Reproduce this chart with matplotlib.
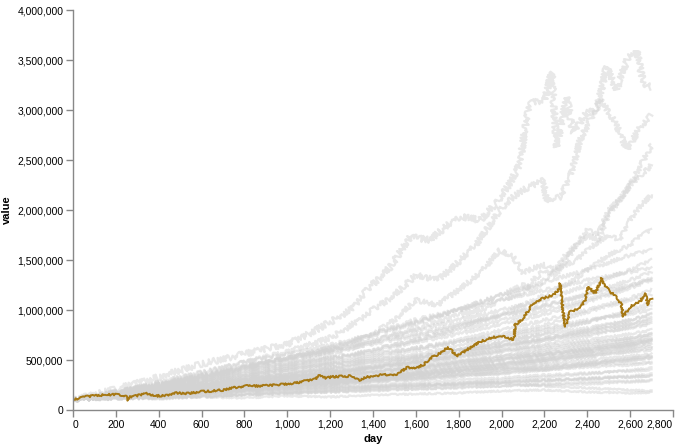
import matplotlib
matplotlib.use("Agg")
import matplotlib.pyplot as plt

plt.rcParams['font.family'] = ['Liberation Sans', 'DejaVu Sans']

# ---------------------------------------------------------------------------
# data (values in thousands)
# ---------------------------------------------------------------------------
grid_days = [0, 200, 400, 600, 800, 1000, 1200, 1400, 1600, 1800, 2000, 2200, 2400, 2600, 2700]

bulk_paths = [
    [100, 130, 150, 170, 190, 210, 230, 240, 260, 250, 270, 240, 220, 200, 190],
    [100, 120, 110, 130, 120, 140, 130, 150, 160, 170, 190, 200, 180, 170, 175],
    [100, 140, 180, 200, 240, 260, 300, 310, 350, 380, 420, 400, 450, 470, 480],
    [100, 150, 170, 220, 260, 300, 340, 380, 420, 480, 520, 560, 620, 680, 700],
    [100, 160, 200, 260, 320, 360, 420, 480, 520, 600, 680, 760, 820, 900, 950],
    [100, 130, 160, 190, 220, 240, 270, 300, 330, 360, 400, 440, 470, 520, 540],
    [100, 110, 120, 130, 150, 170, 190, 210, 230, 250, 270, 290, 310, 330, 340],
    [100, 170, 230, 300, 360, 420, 480, 560, 620, 680, 760, 850, 980, 1100, 1150],
    [100, 150, 190, 230, 270, 320, 360, 420, 480, 540, 600, 640, 700, 760, 800],
    [100, 140, 160, 190, 210, 250, 280, 300, 320, 350, 360, 400, 430, 450, 470],
    [100, 120, 140, 170, 200, 230, 260, 300, 340, 390, 440, 500, 560, 620, 660],
    [100, 160, 220, 260, 300, 350, 400, 430, 480, 530, 590, 660, 740, 830, 880],
    [100, 140, 200, 250, 300, 330, 380, 420, 460, 520, 580, 620, 680, 720, 760],
    [100, 130, 140, 160, 180, 200, 220, 230, 240, 260, 280, 300, 320, 340, 360],
    [100, 150, 210, 280, 340, 400, 460, 540, 620, 700, 800, 900, 1000, 1120, 1200],
    [100, 180, 240, 320, 400, 460, 520, 580, 680, 760, 860, 960, 1080, 1220, 1300],
    [100, 130, 170, 200, 230, 270, 310, 340, 380, 430, 470, 520, 580, 640, 680],
    [100, 120, 150, 170, 200, 220, 250, 280, 300, 330, 370, 410, 450, 500, 520],
    [100, 140, 170, 220, 260, 290, 330, 370, 410, 460, 500, 560, 600, 660, 700],
    [100, 160, 210, 260, 320, 380, 450, 520, 600, 680, 740, 820, 900, 960, 1000],
    [100, 130, 150, 180, 210, 240, 260, 290, 320, 360, 400, 430, 470, 510, 540],
    [100, 140, 190, 240, 300, 360, 420, 500, 560, 640, 720, 800, 880, 980, 1040],
    [100, 120, 130, 140, 160, 180, 200, 220, 240, 270, 300, 330, 360, 400, 420],
    [100, 150, 180, 210, 250, 290, 340, 380, 430, 480, 540, 600, 660, 720, 760],
    [100, 170, 220, 280, 340, 400, 460, 500, 540, 600, 640, 700, 760, 820, 860],
    [100, 130, 170, 210, 250, 300, 360, 420, 480, 560, 640, 720, 800, 900, 960],
    [100, 140, 160, 180, 200, 230, 250, 280, 310, 340, 380, 420, 460, 500, 520],
    [100, 190, 260, 340, 420, 500, 580, 660, 740, 840, 940, 1040, 1160, 1300, 1380],
    [100, 150, 200, 240, 280, 330, 370, 400, 440, 490, 540, 580, 640, 700, 740],
    [100, 120, 140, 160, 180, 190, 210, 230, 250, 270, 280, 300, 310, 330, 340],
    [100, 160, 190, 230, 280, 330, 380, 440, 500, 560, 620, 700, 780, 860, 920],
    [100, 140, 180, 220, 260, 310, 370, 440, 520, 600, 680, 770, 880, 1000, 1080],
    [100, 130, 160, 180, 210, 240, 280, 310, 350, 390, 430, 480, 530, 590, 620],
    [100, 150, 180, 210, 240, 280, 310, 330, 360, 390, 420, 460, 500, 540, 560],
    [100, 110, 130, 140, 150, 170, 180, 200, 210, 230, 240, 260, 280, 290, 300],
    [100, 170, 240, 300, 370, 440, 520, 600, 700, 800, 900, 1000, 1100, 1240, 1320],
    [100, 140, 170, 200, 240, 280, 320, 350, 390, 440, 500, 540, 600, 650, 690],
    [100, 130, 160, 190, 230, 260, 290, 330, 370, 410, 450, 500, 550, 610, 640],
    [100, 150, 190, 230, 280, 320, 350, 380, 420, 460, 510, 560, 610, 680, 720],
    [100, 120, 150, 180, 210, 240, 280, 320, 360, 410, 460, 520, 580, 650, 700],
    [100, 110, 120, 140, 150, 160, 180, 190, 210, 220, 240, 250, 260, 280, 290],
    [100, 140, 170, 190, 220, 250, 290, 330, 370, 420, 460, 500, 540, 580, 600],
    [100, 160, 200, 250, 300, 350, 410, 470, 530, 590, 650, 720, 790, 860, 900],
    [100, 120, 150, 170, 190, 210, 230, 250, 270, 300, 320, 350, 370, 390, 400],
    [100, 180, 280, 380, 480, 560, 650, 760, 880, 1000, 1100, 1200, 1300, 1380, 1420],
    [100, 170, 260, 350, 440, 520, 600, 680, 760, 860, 950, 1050, 1150, 1250, 1300],
    [100, 160, 250, 340, 430, 520, 600, 700, 800, 900, 1000, 1100, 1250, 1400, 1500],
    [100, 150, 230, 320, 420, 520, 620, 740, 870, 1000, 1150, 1280, 1400, 1550, 1600],
]

# the few runs that stand out above the bulk
line_a_days = [0, 200, 400, 600, 800, 1000, 1100, 1200, 1293, 1386, 1480, 1573, 1666,
               1760, 1820, 1900, 1977, 2040, 2086, 2117, 2133, 2200, 2234, 2257, 2304,
               2334, 2397, 2444, 2490, 2537, 2584, 2630, 2661, 2700]
line_a_vals = [100, 210, 330, 460, 560, 660, 760, 880, 1000, 1230, 1430, 1730, 1700,
               1870, 1930, 1900, 2070, 2270, 2470, 2930, 3070, 3100, 3380, 2630, 3130,
               2770, 2970, 3000, 3430, 3200, 3500, 3600, 3270, 3230]

line_b_days = [0, 200, 400, 600, 800, 1000, 1200, 1300, 1400, 1500, 1600, 1700, 1760,
               1880, 1993, 2054, 2100, 2194, 2210, 2273, 2320, 2350, 2366, 2413, 2460,
               2510, 2553, 2584, 2613, 2646, 2677, 2700]
line_b_vals = [100, 170, 260, 360, 470, 580, 720, 850, 1000, 1150, 1350, 1300, 1400,
               1650, 2000, 2130, 2200, 2300, 2100, 2130, 2330, 2570, 2700, 2900, 3100,
               2950, 2770, 2600, 2700, 2830, 2900, 2950]

line_c_days = [0, 200, 400, 600, 800, 1000, 1200, 1300, 1400, 1500, 1600, 1700, 1800,
               1900, 1993, 2054, 2100, 2150, 2200, 2250, 2300, 2350, 2400, 2450, 2500,
               2550, 2600, 2650, 2700]
line_c_vals = [100, 160, 230, 310, 400, 480, 600, 680, 760, 900, 1100, 1050, 1200,
               1370, 1600, 1530, 1370, 1420, 1450, 1400, 1550, 1650, 1800, 1750, 2000,
               2100, 2250, 2350, 2450]

late_days = [0, 200, 400, 600, 800, 1000, 1200, 1400, 1600, 1800, 1900, 2000, 2100,
             2150, 2200, 2250, 2300, 2350, 2400, 2450, 2500, 2550, 2600, 2650, 2700]
line_d_vals = [100, 150, 220, 300, 380, 450, 560, 680, 820, 950, 1000, 1100, 1180,
               1300, 1400, 1350, 1500, 1650, 1750, 1700, 1950, 2100, 2250, 2450, 2650]
line_e_vals = [100, 170, 250, 330, 420, 520, 620, 760, 900, 1000, 1080, 1150, 1250,
               1200, 1300, 1400, 1450, 1500, 1600, 1680, 1750, 1700, 1900, 2050, 2150]
line_f_vals = [100, 140, 200, 260, 330, 420, 500, 600, 700, 820, 900, 950, 1050,
               1100, 1150, 1200, 1250, 1320, 1400, 1480, 1550, 1600, 1650, 1750, 1800]

# highlighted run
gold_days = [0, 30, 60, 100, 150, 187, 220, 250, 257, 262, 290, 344, 390, 440, 484,
             540, 593, 650, 700, 747, 810, 873, 950, 1028, 1090, 1130, 1153, 1180,
             1214, 1250, 1293, 1320, 1339, 1370, 1400, 1447, 1494, 1530, 1557, 1604,
             1640, 1666, 1713, 1750, 1770, 1790, 1837, 1900, 1960, 2008, 2054, 2060,
             2063, 2101, 2147, 2194, 2241, 2265, 2273, 2288, 2297, 2320, 2367, 2390,
             2404, 2437, 2467, 2480, 2506, 2537, 2560, 2567, 2600, 2646, 2670, 2684, 2700]
gold_vals = [100, 120, 132, 145, 150, 155, 150, 140, 95, 130, 140, 165, 140, 150, 170,
             165, 183, 190, 200, 223, 240, 240, 250, 267, 293, 310, 350, 320,
             333, 335, 340, 320, 300, 330, 333, 360, 340, 380, 427, 420,
             460, 517, 567, 627, 590, 533, 600, 683, 727, 733, 707, 720,
             850, 917, 1067, 1117, 1150, 1200, 1267, 967, 833, 983, 1017, 1100,
             1233, 1167, 1317, 1250, 1183, 1133, 1050, 933, 1033, 1083, 1167, 1050, 1117]

x_ticks = list(range(0, 2801, 200))
y_ticks = list(range(0, 4000001, 500000))

# ---------------------------------------------------------------------------
# plot
# ---------------------------------------------------------------------------
fig = plt.figure(figsize=(6.78, 4.47), dpi=100)
ax = fig.add_axes([73 / 678, 37 / 447, 600 / 678, 400 / 447])


def run_line(days, vals, top):
    # daily noise drawn as a rough stroke, wider for the runs that end high
    ln, = ax.plot(days, [v * 1000 for v in vals], color='#d3d3d3', alpha=0.5,
                  linewidth=1.6, solid_joinstyle='round')
    ln.set_sketch_params(scale=0.6 + top / 1400.0, length=1, randomness=2)


for path in bulk_paths:
    run_line(grid_days, path, max(path))

for days, vals in [(line_a_days, line_a_vals), (line_b_days, line_b_vals),
                   (line_c_days, line_c_vals), (late_days, line_d_vals),
                   (late_days, line_e_vals), (late_days, line_f_vals)]:
    run_line(days, vals, max(vals))

gold, = ax.plot(gold_days, [v * 1000 for v in gold_vals], color='#a67814',
                linewidth=1.4, solid_joinstyle='round')
gold.set_sketch_params(scale=1.0, length=1, randomness=2)

ax.set_xlim(0, 2800)
ax.set_ylim(0, 4000000)
ax.set_xticks(x_ticks)
ax.set_yticks(y_ticks)
ax.set_xticklabels([f'{v:,}' for v in x_ticks])
ax.set_yticklabels([f'{v:,}' for v in y_ticks])
xlabels = ax.get_xticklabels()
xlabels[0].set_horizontalalignment('left')
xlabels[-1].set_horizontalalignment('right')

for side in ['top', 'right']:
    ax.spines[side].set_visible(False)
for side in ['left', 'bottom']:
    ax.spines[side].set_color('#888888')
    ax.spines[side].set_linewidth(1)

ax.tick_params(axis='both', colors='#888888', length=5, width=1, labelsize=7.5,
               labelcolor='#000000', pad=2)

ax.set_xlabel('day', fontsize=8, fontweight='bold', labelpad=3)
ax.set_ylabel('value', fontsize=8, fontweight='bold', labelpad=4)

fig.savefig('out.png', dpi=100, facecolor='white')
